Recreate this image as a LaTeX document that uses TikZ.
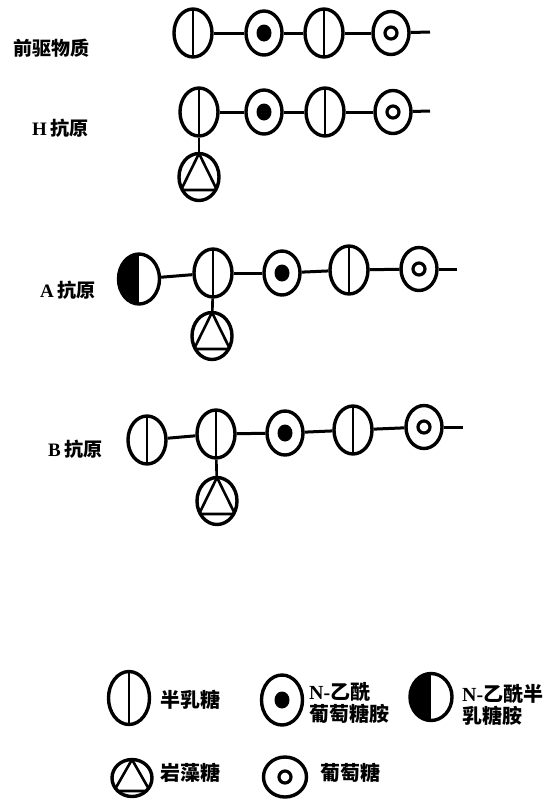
\documentclass[tikz,border=0pt]{standalone}
\usepackage{fontspec}
\usetikzlibrary{shapes.geometric}
\newfontfamily\cjk{Noto Sans CJK SC}[BoldFont={Noto Sans CJK SC Black}]
\newfontfamily\latin{Liberation Serif}
\begin{document}
\begin{tikzpicture}[x=1pt,y=-1pt,
  sugar/.style={ellipse,draw,line width=3.4pt,inner sep=0pt,
    minimum width=38pt,minimum height=48pt},
  gal/.style={sugar,path picture={
    \draw[line width=2.6pt] (path picture bounding box.north) -- (path picture bounding box.south);}},
  galnac/.style={sugar,minimum width=41pt,minimum height=50pt,path picture={
    \fill (path picture bounding box.north) rectangle (path picture bounding box.south west);}},
  glcnac/.style={sugar,minimum width=36pt,minimum height=44pt,path picture={
    \fill (path picture bounding box.center) ellipse[x radius=7.5pt,y radius=8.5pt];}},
  glc/.style={sugar,minimum width=36pt,minimum height=43pt,path picture={
    \draw[line width=3.2pt] (path picture bounding box.center) circle[radius=6pt];}},
  fuc/.style={sugar,minimum width=40pt,minimum height=47pt,path picture={
    \draw[line width=2.6pt,line join=round]
      (path picture bounding box.north)
      -- ([shift={(-18pt,-13pt)}]path picture bounding box.center)
      -- ([shift={(18pt,-13pt)}]path picture bounding box.center) -- cycle;}},
  link/.style={line width=3pt},
  stem/.style={line width=2.6pt},
  lbl/.style={font=\cjk\fontsize{19}{19}\selectfont\bfseries,anchor=west,inner sep=0pt},
  key/.style={font=\cjk\fontsize{20}{22}\selectfont\bfseries,anchor=west,inner sep=0pt,align=left}
]
\useasboundingbox (0,0) rectangle (554,807);

% precursor chain
\node[lbl] (l1) at (13,48) {前驱物质};
\node[gal] (p1) at (193,33) {};
\node[glcnac] (p2) at (264,33) {};
\node[gal] (p3) at (324,33) {};
\node[glc] (p4) at (391,33) {};
\coordinate (p5) at (430,32);
\draw[link] (p1) -- (p2); \draw[link] (p2) -- (p3); \draw[link] (p3) -- (p4); \draw[link] (p4) -- (p5);

% H antigen
\node[lbl] (l2) at (32,128) {{\latin\bfseries H}\,抗原};
\node[gal] (h1) at (199,112) {};
\node[glcnac] (h2) at (264,112) {};
\node[gal] (h3) at (325,112) {};
\node[glc] (h4) at (393,112) {};
\coordinate (h5) at (430,111);
\node[fuc] (hf) at (199,177) {};
\draw[link] (h1) -- (h2); \draw[link] (h2) -- (h3); \draw[link] (h3) -- (h4); \draw[link] (h4) -- (h5);
\draw[stem] (h1) -- (hf);

% A antigen
\node[lbl] (l3) at (40,290) {{\latin\bfseries A}\,抗原};
\node[galnac] (a0) at (139,279) {};
\node[gal] (a1) at (213,273) {};
\node[glcnac] (a2) at (282,273) {};
\node[gal] (a3) at (349,270) {};
\node[glc] (a4) at (419,269) {};
\coordinate (a5) at (457,269);
\node[fuc] (af) at (212,336) {};
\draw[link] (a0) -- (a1); \draw[link] (a1) -- (a2); \draw[link] (a2) -- (a3); \draw[link] (a3) -- (a4); \draw[link] (a4) -- (a5);
\draw[stem] (a1) -- (af);

% B antigen
\node[lbl] (l4) at (48,449) {{\latin\bfseries B}\,抗原};
\node[gal] (b0) at (147,440) {};
\node[gal] (b1) at (216,434) {};
\node[glcnac] (b2) at (285,433) {};
\node[gal] (b3) at (353,430) {};
\node[glc] (b4) at (424,427) {};
\coordinate (b5) at (463,427);
\node[fuc] (bf) at (217,501) {};
\draw[link] (b0) -- (b1); \draw[link] (b1) -- (b2); \draw[link] (b2) -- (b3); \draw[link] (b3) -- (b4); \draw[link] (b4) -- (b5);
\draw[stem] (b1) -- (bf);

% key
\node[gal,minimum width=41pt,minimum height=53pt] (k1) at (129,698) {};
\node[key] (t1) at (160,700) {半乳糖};
\node[glcnac,minimum width=41pt,minimum height=50pt] (k2) at (282,700) {};
\node[key] (t2) at (309,703) {{\latin\bfseries N-}乙酰\\葡萄糖胺};
\node[galnac,minimum width=42pt,minimum height=47pt] (k3) at (431,697) {};
\node[key] (t3) at (462,705) {{\latin\bfseries N-}乙酰半\\乳糖胺};
\node[fuc,minimum width=40pt,minimum height=37pt] (k4) at (132,778) {};
\node[key] (t4) at (160,773) {岩藻糖};
\node[glc,minimum width=43pt,minimum height=40pt] (k5) at (285,777) {};
\node[key] (t5) at (320,773) {葡萄糖};
\end{tikzpicture}
\end{document}
